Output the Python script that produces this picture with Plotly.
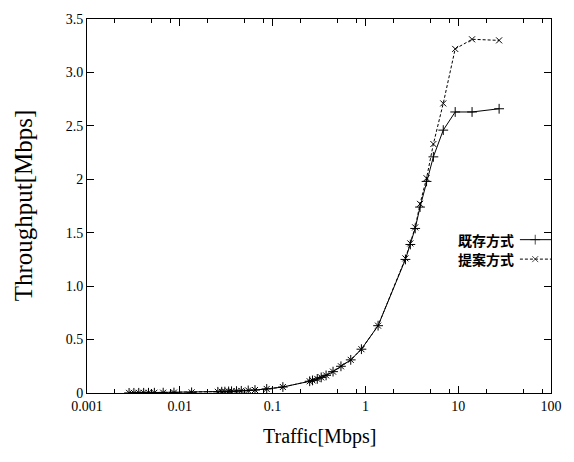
import plotly.graph_objects as go

traffic = [0.00284, 0.0032, 0.00361, 0.00408, 0.0046, 0.00532, 0.00662, 0.00865, 0.0134,
           0.0257, 0.0283, 0.0306, 0.0336, 0.0361, 0.0408, 0.046, 0.0546, 0.0646, 0.0864, 0.129,
           0.251, 0.269, 0.303, 0.334, 0.377, 0.448, 0.545, 0.695, 0.906, 1.37,
           2.70, 3.05, 3.44, 3.88, 4.56, 5.4, 6.9, 9.28, 14.1, 27.6]
existing = [0.001, 0.0014, 0.0016, 0.0018, 0.002, 0.0024, 0.003, 0.004, 0.006,
            0.011, 0.012, 0.013, 0.015, 0.016, 0.018, 0.02, 0.024, 0.028, 0.038, 0.056,
            0.11, 0.118, 0.132, 0.146, 0.165, 0.2, 0.25, 0.31, 0.41, 0.63,
            1.25, 1.39, 1.54, 1.74, 1.98, 2.21, 2.46, 2.63, 2.63, 2.66]
proposed = [0.001, 0.0014, 0.0016, 0.0018, 0.002, 0.0024, 0.003, 0.004, 0.006,
            0.011, 0.012, 0.013, 0.015, 0.016, 0.018, 0.02, 0.024, 0.028, 0.038, 0.056,
            0.11, 0.118, 0.132, 0.146, 0.165, 0.2, 0.25, 0.31, 0.41, 0.63,
            1.26, 1.40, 1.55, 1.77, 2.01, 2.33, 2.71, 3.22, 3.31, 3.30]

series_names = ["既存方式", "提案方式"]
x_tickvals = [0.001, 0.01, 0.1, 1, 10, 100]
x_ticktext = ["0.001", "0.01", "0.1", "1", "10", "100"]
x_minor = [m * d for d in [0.001, 0.01, 0.1, 1, 10] for m in (2, 5, 8)]
y_tickvals = [0, 0.5, 1.0, 1.5, 2.0, 2.5, 3.0, 3.5]
y_ticktext = ["0", "0.5", "1.0", "1.5", "2", "2.5", "3.0", "3.5"]

serif = "Liberation Serif, Times New Roman, serif"
cjk = "Noto Sans CJK JP, sans-serif"

fig = go.Figure()
fig.add_trace(go.Scatter(x=traffic, y=existing, mode="lines+markers", name=series_names[0],
                         line=dict(color="black", width=1),
                         marker=dict(symbol="cross-thin", size=7, line=dict(color="black", width=1)),
                         showlegend=False))
fig.add_trace(go.Scatter(x=traffic, y=proposed, mode="lines+markers", name=series_names[1],
                         line=dict(color="black", width=1, dash="3px,2px"),
                         marker=dict(symbol="x-thin", size=6, line=dict(color="black", width=1)),
                         showlegend=False))

# manual legend (sample on the right of the text, as in the original)
leg_y = [0.41, 0.358]
leg_styles = [(dict(color="black", width=1), "cross-thin", 7),
              (dict(color="black", width=1, dash="3px,2px"), "x-thin", 6)]
for name, ly, (ln, sym, sz) in zip(series_names, leg_y, leg_styles):
    fig.add_trace(go.Scatter(x=[0.933, 0.966, 1.0], y=[ly, ly, ly], xaxis="x2", yaxis="y2",
                             mode="lines+markers", line=ln,
                             marker=dict(symbol=sym, size=[0, sz, 0], line=dict(color="black", width=1)),
                             showlegend=False, hoverinfo="skip"))
    fig.add_annotation(x=0.925, y=ly, xref="paper", yref="paper", text="<b>%s</b>" % name,
                       showarrow=False, xanchor="right", yanchor="middle",
                       font=dict(family=cjk, size=14, color="black"))

axis_common = dict(showline=True, linecolor="black", linewidth=1, mirror="ticks",
                   ticks="inside", tickcolor="black", ticklen=7, tickwidth=1,
                   showgrid=False, zeroline=False, ticklabeloverflow="allow",
                   tickfont=dict(family=serif, size=14, color="black"))

fig.update_layout(
    width=574, height=462,
    margin=dict(l=87, r=12, t=13, b=69),
    paper_bgcolor="white", plot_bgcolor="white",
    xaxis=dict(type="log", range=[-3, 2], tickmode="array", tickvals=x_tickvals, ticktext=x_ticktext,
               minor=dict(tickmode="array", tickvals=x_minor, ticks="inside", ticklen=4,
                          tickcolor="black", tickwidth=1, showgrid=False),
               **axis_common),
    yaxis=dict(range=[0, 3.5], tickmode="array", tickvals=y_tickvals, ticktext=y_ticktext,
               **axis_common),
    xaxis2=dict(overlaying="x", range=[0, 1], visible=False, fixedrange=True),
    yaxis2=dict(overlaying="y", range=[0, 1], visible=False, fixedrange=True),
    showlegend=False,
)
fig.add_annotation(x=0.5, y=-0.116, xref="paper", yref="paper", text="Traffic[Mbps]",
                   showarrow=False, xanchor="center", yanchor="middle",
                   font=dict(family=serif, size=20, color="black"))
fig.add_annotation(x=-0.137, y=0.503, xref="paper", yref="paper", text="Throughput[Mbps]",
                   showarrow=False, xanchor="center", yanchor="middle", textangle=-90,
                   font=dict(family=serif, size=25, color="black"))

fig.write_html("out.html", config={"displayModeBar": False},
               post_script="document.body.style.margin='0';document.body.style.overflow='hidden';")
